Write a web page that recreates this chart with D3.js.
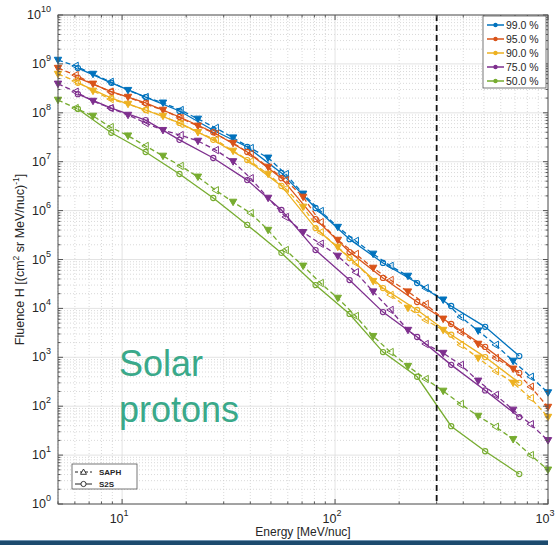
<!DOCTYPE html>
<html><head><meta charset="utf-8">
<script src="https://cdn.jsdelivr.net/npm/d3@7"></script>
<style>
body{margin:0;background:#fff;}
svg{display:block;font-family:"Liberation Sans",Arial,Helvetica,sans-serif;}
</style>
</head><body>
<svg id="c" width="559" height="545"></svg>
<script>
// ---------- data ----------
const percentiles = ["99.0 %", "95.0 %", "90.0 %", "75.0 %", "50.0 %"];
const colors = ["#0072BD", "#D95319", "#EDB120", "#7E2F8E", "#77AC30"];

// S2S model (solid line, circles)
const s2sEnergy = [6.2, 8.9, 12.9, 18.6, 26.8, 38.7, 56, 81, 117, 168, 243, 351, 507, 733];
const s2s99 = [8.2e8, 4.1e8, 2.1e8, 1.09e8, 4.4e7, 2.0e7, 5.9e6, 1.13e6, 2.6e5, 8.5e4, 3.3e4, 1.12e4, 4.2e3, 1.06e3];
const s2s95 = [5.2e8, 2.7e8, 1.6e8, 8.2e7, 4.0e7, 1.58e7, 4.6e6, 6.7e5, 1.42e5, 4.2e4, 1.35e4, 4.8e3, 1.63e3, 480];
const s2s90 = [4.1e8, 2.0e8, 1.14e8, 6.2e7, 2.8e7, 1.08e7, 3.2e6, 4.4e5, 1.07e5, 2.6e4, 9.3e3, 2.9e3, 1.01e3, 300];
const s2s75 = [2.4e8, 1.25e8, 7.1e7, 2.8e7, 1.19e7, 4.2e6, 1.03e6, 1.56e5, 3.8e4, 8.4e3, 2.6e3, 700, 210, 60];
const s2s50 = [1.2e8, 3.9e7, 1.58e7, 5.6e6, 1.81e6, 5.1e5, 1.36e5, 3.0e4, 7.7e3, 1.28e3, 400, 39, 12, 4.1];

// SAPH model (dashed line, triangles)
const saphEnergy = [5.0, 6.04, 7.3, 8.82, 10.66, 12.88, 15.56, 18.8, 22.7, 27.5, 33.2, 40.1, 48.5, 58.6, 70.8,
                    85.5, 103, 125, 151, 182, 220, 266, 322, 389, 470, 568, 686, 829, 1000];
const saph99 = [1.2e9, 9.1e8, 6.2e8, 4.3e8, 2.9e8, 2.1e8, 1.6e8, 1.14e8, 7.5e7, 4.9e7, 3.1e7, 1.9e7, 1.2e7, 5.6e6, 2.2e6,
                9.8e5, 4.6e5, 2.4e5, 1.3e5, 7.4e4, 4.6e4, 2.6e4, 1.5e4, 6.7e3, 3.5e3, 1.8e3, 840, 400, 190];
const saph95 = [8.2e8, 5.9e8, 3.9e8, 2.7e8, 2.1e8, 1.51e8, 1.14e8, 7.8e7, 5.4e7, 3.7e7, 2.4e7, 1.44e7, 7.8e6, 4.2e6, 1.9e6,
                5.8e5, 2.5e5, 1.3e5, 6.7e4, 3.8e4, 2.2e4, 1.23e4, 6.1e3, 3.3e3, 1.87e3, 970, 580, 250, 96];
const saph90 = [6.2e8, 4.5e8, 2.8e8, 1.91e8, 1.51e8, 1.14e8, 8.6e7, 5.9e7, 4.0e7, 2.8e7, 1.66e7, 1.01e7, 5.6e6, 2.8e6, 1.19e6,
                3.6e5, 1.8e5, 8.5e4, 3.6e4, 1.88e4, 1.02e4, 5.8e3, 3.6e3, 1.8e3, 970, 520, 300, 147, 60];
const saph75 = [3.9e8, 2.7e8, 1.74e8, 1.25e8, 9.0e7, 6.2e7, 4.4e7, 3.5e7, 2.65e7, 1.73e7, 1.01e7, 4.6e6, 1.81e6, 7.4e5, 3.6e5,
                2.1e5, 1.18e5, 5.5e4, 2.2e4, 9.3e3, 3.6e3, 1.87e3, 1.22e3, 700, 330, 170, 84, 43, 20];
const saph50 = [1.83e8, 1.25e8, 8.6e7, 5.1e7, 3.4e7, 2.1e7, 1.31e7, 8.2e6, 4.9e6, 2.6e6, 1.5e6, 8.9e5, 4.0e5, 1.56e5, 7.4e4,
                3.3e4, 1.63e4, 7.0e3, 2.7e3, 1.28e3, 660, 360, 205, 111, 63, 38, 21, 10, 5.0];

const xDecades = [10, 100, 1000];
const yDecades = [0, 1, 2, 3, 4, 5, 6, 7, 8, 9, 10];
const cutoffEnergy = [300];
const modelNames = ["SAPH", "S2S"];

const s2sSeries = [s2s99, s2s95, s2s90, s2s75, s2s50];
const saphSeries = [saph99, saph95, saph90, saph75, saph50];

// ---------- layout ----------
const L = 58, R = 548, T = 15, B = 504;
const svg = d3.select("#c");
const x = d3.scaleLog().domain([5, 1000]).range([L, R]);
const y = d3.scaleLog().domain([1, 1e10]).range([B, T]);
const textCol = "#262626";

// grid
const g = svg.append("g");
const xMinor = [];
[1, 10, 100].forEach(d => { for (let k = 2; k <= 9; k++) { const v = d * k; if (v >= 5 && v < 1000) xMinor.push(v); } });
const yMinor = [];
for (let e = 0; e < 10; e++) for (let k = 2; k <= 9; k++) yMinor.push(k * Math.pow(10, e));

g.selectAll(".xmin").data(xMinor).join("line")
  .attr("x1", d => x(d)).attr("x2", d => x(d)).attr("y1", T).attr("y2", B)
  .attr("stroke", "#c8c8c8").attr("stroke-width", 0.7).attr("stroke-dasharray", "1,2");
g.selectAll(".ymin").data(yMinor).join("line")
  .attr("y1", d => y(d)).attr("y2", d => y(d)).attr("x1", L).attr("x2", R)
  .attr("stroke", "#c8c8c8").attr("stroke-width", 0.7).attr("stroke-dasharray", "1,2");
g.selectAll(".xmaj").data(xDecades).join("line")
  .attr("x1", d => x(d)).attr("x2", d => x(d)).attr("y1", T).attr("y2", B)
  .attr("stroke", "#dcdcdc").attr("stroke-width", 0.8);
g.selectAll(".ymaj").data(yDecades).join("line")
  .attr("y1", d => y(Math.pow(10, d))).attr("y2", d => y(Math.pow(10, d))).attr("x1", L).attr("x2", R)
  .attr("stroke", "#dcdcdc").attr("stroke-width", 0.8);

// ---------- series ----------
const plot = svg.append("g");
const line = d3.line().x(d => x(d[0])).y(d => y(d[1]));
const triDown = s => `M${-s},${-s * 0.75}L${s},${-s * 0.75}L0,${s}Z`;
const triLeft = s => `M${s * 0.75},${-s}L${s * 0.75},${s}L${-s},0Z`;

for (let i = 0; i < 5; i++) {
  const c = colors[i];
  const sp = saphEnergy.map((e, k) => [e, saphSeries[i][k]]);
  const ss = s2sEnergy.map((e, k) => [e, s2sSeries[i][k]]);
  plot.append("path").datum(sp).attr("d", line).attr("fill", "none")
    .attr("stroke", c).attr("stroke-width", 1.3).attr("stroke-dasharray", "5,3");
  plot.append("path").datum(ss).attr("d", line).attr("fill", "none")
    .attr("stroke", c).attr("stroke-width", 1.3);
  plot.selectAll(null).data(sp).join("path")
    .attr("transform", d => `translate(${x(d[0])},${y(d[1])})`)
    .attr("d", (d, k) => k % 2 === 0 ? triDown(3.7) : triLeft(3.7))
    .attr("fill", (d, k) => k % 2 === 0 ? c : "none")
    .attr("stroke", c).attr("stroke-width", 1);
  plot.selectAll(null).data(ss).join("circle")
    .attr("cx", d => x(d[0])).attr("cy", d => y(d[1])).attr("r", 2.6)
    .attr("fill", "none").attr("stroke", c).attr("stroke-width", 1.1);
}

// cutoff line
svg.selectAll(".cut").data(cutoffEnergy).join("line")
  .attr("x1", d => x(d)).attr("x2", d => x(d)).attr("y1", T).attr("y2", B)
  .attr("stroke", "#111").attr("stroke-width", 1.8).attr("stroke-dasharray", "6,4");

// ---------- axes box & ticks ----------
const ax = svg.append("g").attr("stroke", "#555");
ax.append("rect").attr("x", L).attr("y", T).attr("width", R - L).attr("height", B - T)
  .attr("fill", "none").attr("stroke-width", 1);
xDecades.concat(xMinor).forEach(v => {
  const len = xDecades.includes(v) ? 5 : 2.5;
  ax.append("line").attr("x1", x(v)).attr("x2", x(v)).attr("y1", B).attr("y2", B - len);
  ax.append("line").attr("x1", x(v)).attr("x2", x(v)).attr("y1", T).attr("y2", T + len);
});
yDecades.map(d => Math.pow(10, d)).concat(yMinor).forEach(v => {
  const len = yMinor.includes(v) ? 2.5 : 5;
  ax.append("line").attr("y1", y(v)).attr("y2", y(v)).attr("x1", L).attr("x2", L + len);
  ax.append("line").attr("y1", y(v)).attr("y2", y(v)).attr("x1", R).attr("x2", R - len);
});

// tick labels
const lab = svg.append("g").attr("fill", textCol).attr("font-size", 12.5);
xDecades.forEach(v => {
  const t = lab.append("text").attr("x", x(v) - 3).attr("y", 523).attr("text-anchor", "middle");
  t.append("tspan").text("10");
  t.append("tspan").attr("dy", -7).attr("font-size", 9).text(Math.round(Math.log10(v)));
});
yDecades.forEach(d => {
  const t = lab.append("text").attr("x", 51).attr("y", y(Math.pow(10, d)) + 4).attr("text-anchor", "end");
  t.append("tspan").text("10");
  t.append("tspan").attr("dy", -7).attr("font-size", 9).text(d);
});

// axis titles
svg.append("text").attr("x", (L + R) / 2).attr("y", 536).attr("text-anchor", "middle")
  .attr("fill", textCol).attr("font-size", 12).text("Energy [MeV/nuc]");
const yl = svg.append("text").attr("transform", `translate(24,${(T + B) / 2}) rotate(-90)`)
  .attr("text-anchor", "middle").attr("fill", textCol).attr("font-size", 12.5);
yl.append("tspan").text("Fluence H [(cm");
yl.append("tspan").attr("dy", -5).attr("font-size", 8.5).text("2");
yl.append("tspan").attr("dy", 5).text(" sr MeV/nuc)");
yl.append("tspan").attr("dy", -5).attr("font-size", 8.5).text("-1");
yl.append("tspan").attr("dy", 5).text("]");

// ---------- percentile legend ----------
const lg = svg.append("g");
lg.append("rect").attr("x", 483).attr("y", 16).attr("width", 63).attr("height", 72)
  .attr("fill", "#fff").attr("stroke", "#555").attr("stroke-width", 0.8);
percentiles.forEach((p, i) => {
  const yy = 25 + i * 14;
  lg.append("line").attr("x1", 487).attr("x2", 504).attr("y1", yy).attr("y2", yy)
    .attr("stroke", colors[i]).attr("stroke-width", 1.5);
  lg.append("circle").attr("cx", 495.5).attr("cy", yy).attr("r", 2.2).attr("fill", colors[i]);
  lg.append("text").attr("x", 506).attr("y", yy + 3.6).attr("font-size", 10.5)
    .attr("fill", textCol).text(p);
});

// ---------- model legend ----------
const ml = svg.append("g");
ml.append("rect").attr("x", 72).attr("y", 464).attr("width", 65).attr("height", 25)
  .attr("fill", "#fff").attr("stroke", "#555").attr("stroke-width", 0.8);
modelNames.forEach((n, i) => {
  const yy = 472 + i * 12;
  ml.append("line").attr("x1", 75).attr("x2", 92).attr("y1", yy).attr("y2", yy)
    .attr("stroke", "#222").attr("stroke-width", 1).attr("stroke-dasharray", i === 0 ? "3,2" : null);
  if (i === 0) {
    ml.append("path").attr("transform", `translate(83.5,${yy})`).attr("d", "M-3,2.3L3,2.3L0,-3Z")
      .attr("fill", "#fff").attr("stroke", "#222").attr("stroke-width", 0.9);
  } else {
    ml.append("circle").attr("cx", 83.5).attr("cy", yy).attr("r", 2.6)
      .attr("fill", "#fff").attr("stroke", "#222").attr("stroke-width", 0.9);
  }
  ml.append("text").attr("x", 99).attr("y", yy + 3).attr("font-size", 8).attr("font-weight", "bold")
    .attr("fill", textCol).text(n);
});

// ---------- annotation ----------
const ann = svg.append("g").attr("fill", "#3aa98a").attr("font-size", 36);
ann.append("text").attr("x", 119).attr("y", 376).text("Solar");
ann.append("text").attr("x", 119).attr("y", 422).text("protons");

// slide separator
svg.append("rect").attr("x", 0).attr("y", 540).attr("width", 548).attr("height", 1).attr("fill", "#6f93b0");
svg.append("rect").attr("x", 0).attr("y", 541).attr("width", 548).attr("height", 4).attr("fill", "#1c4b6e");
</script>
</body></html>
